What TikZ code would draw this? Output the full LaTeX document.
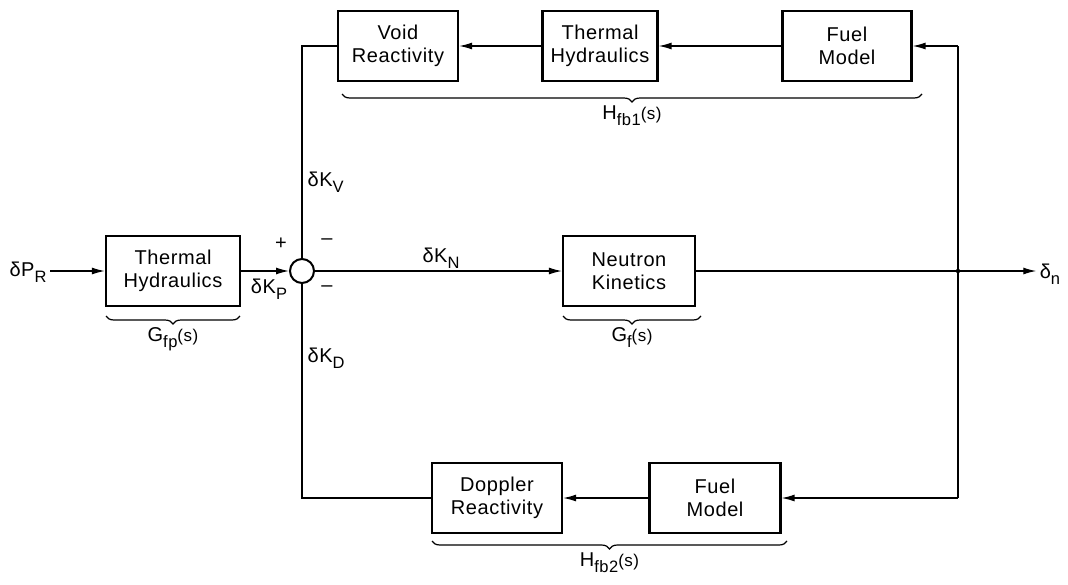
\documentclass[tikz,border=0pt]{standalone}
\usepackage{fontspec}
\setmainfont{Liberation Sans}[LetterSpace=3]
\usetikzlibrary{arrows.meta,positioning,decorations.pathreplacing}
\newcommand{\lowsub}[1]{\raisebox{-0.3em}{\fontsize{16.5}{16.5}\selectfont #1}}
\newcommand{\argS}{{\fontsize{17}{17}\selectfont (s)}}
\tikzset{
  blk/.style={draw,line width=2.2pt,minimum height=70pt,inner sep=0pt,align=center},
  sig/.style={line width=1.3pt},
  arr/.style={sig,-{Latex[length=13pt,width=7pt]}},
  brc/.style={line width=1.2pt,decorate,decoration={brace,mirror,amplitude=8pt}}
}
\begin{document}
\begin{tikzpicture}[x=1pt,y=-1pt,node distance=6pt,every node/.style={font=\fontsize{20}{22.5}\selectfont}]
\useasboundingbox (0,0) rectangle (1068,584);
\node[blk,minimum width=134pt] (thl) at (173,271) {Thermal\\Hydraulics};
\node[draw,circle,line width=2pt,minimum size=24pt,inner sep=0pt] (sum) at (302,271) {};
\node[blk,minimum width=132pt] (nk) at (629,271) {Neutron\\Kinetics};
\node[blk,minimum width=120pt] (void) at (398,46) {Void\\Reactivity};
\node[blk,minimum width=115pt] (thf) at (600,46) {Thermal\\Hydraulics};
\node[blk,minimum width=129pt] (fuel1) at (847,46) {Fuel\\Model};
\node[blk,minimum width=130pt] (dop) at (497,498) {Doppler\\Reactivity};
\node[blk,minimum width=131pt] (fuel2) at (715,498) {Fuel\\Model};
\coordinate (tap) at (958,271);
\coordinate (tapt) at (958,46);
\coordinate (tapb) at (958,498);
\node (dPR) at (28,272) {δP\lowsub{R}};
\node (dn) at (1050,274) {δ\lowsub{n}};
\node (dKP) at (269,289) {δK\lowsub{P}};
\node (plus) at (281,244) {+};
\node (m1) at (327,242) {--};
\node (m2) at (327,289) {--};
\node[anchor=west] (dKV) at (304,182) {δK\lowsub{V}};
\node (dKN) at (441,258) {δK\lowsub{N}};
\node[anchor=west] (dKD) at (304,358) {δK\lowsub{D}};
\draw[arr] (dPR.east |- thl.west) -- (thl.west);\draw[arr] (thl.east) -- (sum.west);\draw[arr] (sum.east) -- (nk.west);
\draw[sig] (nk.east) -- (tap);\draw[arr] (tap) -- (dn.west |- tap);\fill (tap) circle (2.2pt);
\draw[sig] (tapt) -- (tapb);
\draw[arr] (tapt) -- (fuel1.east);\draw[arr] (fuel1.west) -- (thf.east);\draw[arr] (thf.west) -- (void.east);
\draw[sig] (void.west) -| (sum.north);
\draw[arr] (tapb) -- (fuel2.east);\draw[arr] (fuel2.west) -- (dop.east);
\draw[sig] (dop.west) -| (sum.south);
\draw[brc] (106,316) -- node[below=8pt] (gfp) {G\lowsub{fp}\argS} (240,316);
\draw[brc] (563,316) -- node[below=8pt] (gf) {G\lowsub{f}\argS} (701,316);
\draw[brc] (342,94) -- node[below=8pt] (hfb1) {H\lowsub{fb1}\argS} (922,94);
\draw[brc] (432,541) -- node[below=8pt] (hfb2) {H\lowsub{fb2}\argS} (787,541);
\end{tikzpicture}
\end{document}
